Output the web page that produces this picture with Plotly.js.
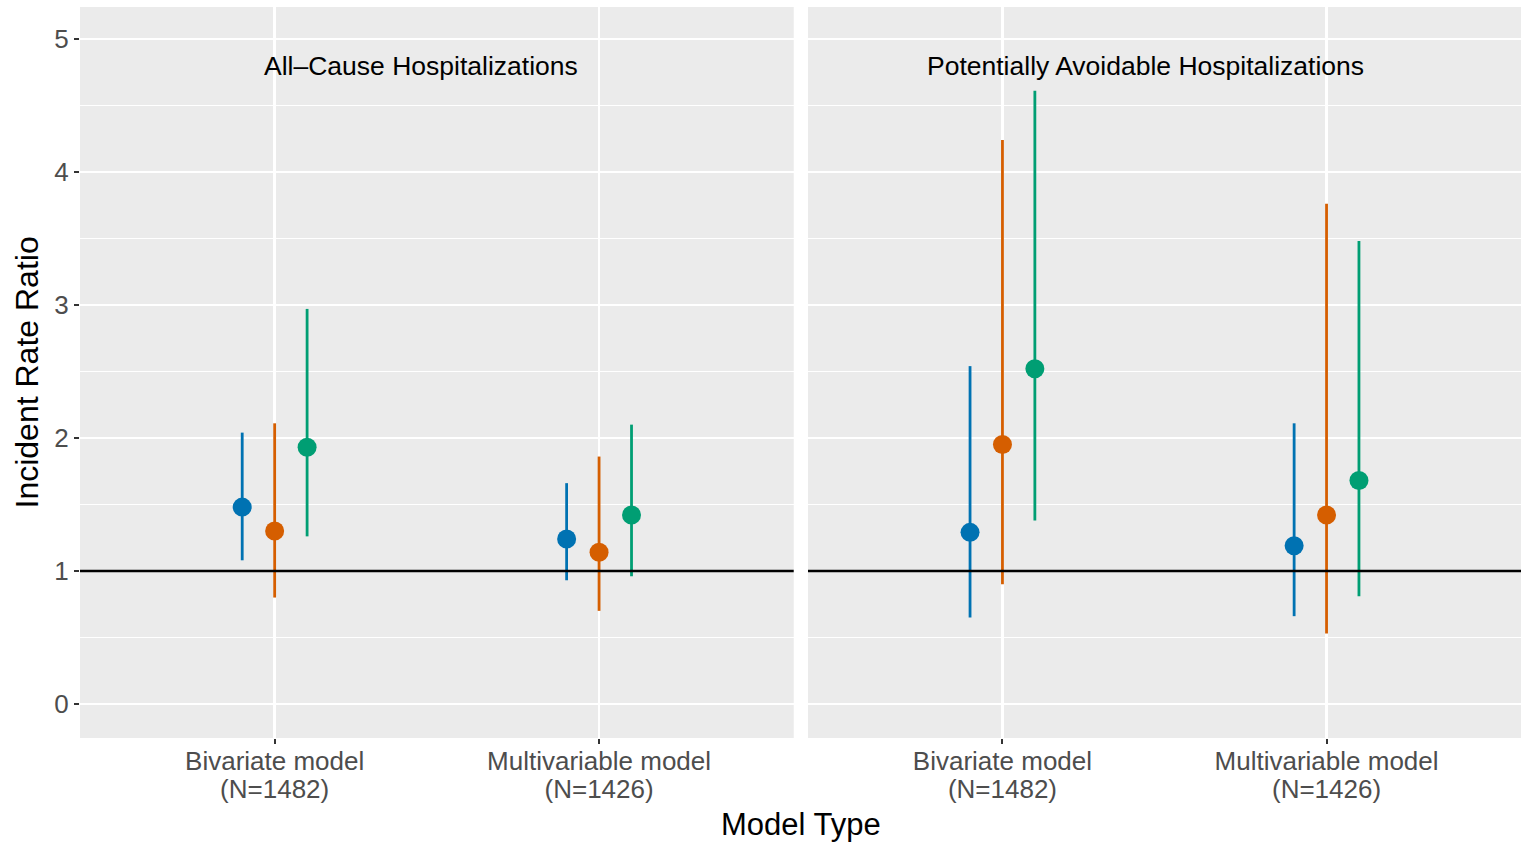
<!DOCTYPE html>
<html><head><meta charset="utf-8">
<script src="https://cdn.plot.ly/plotly-3.0.1.min.js"></script>
<style>body{margin:0;background:#fff}#chart{width:1524px;height:843px}</style>
</head><body><div id="chart"></div>
<script>
const modelNames = ["Bivariate model", "Multivariable model"];
const modelN = ["(N=1482)", "(N=1426)"];
const panels = ["All\u2013Cause Hospitalizations", "Potentially Avoidable Hospitalizations"];
const groupColors = ["#0072B2", "#D55E00", "#009E73"];
// estimates [group][model]
const est_allcause = [[1.48, 1.24], [1.30, 1.14], [1.93, 1.42]];
const lo_allcause  = [[1.08, 0.93], [0.80, 0.70], [1.26, 0.96]];
const hi_allcause  = [[2.04, 1.66], [2.11, 1.86], [2.97, 2.10]];
const est_avoid = [[1.29, 1.19], [1.95, 1.42], [2.52, 1.68]];
const lo_avoid  = [[0.65, 0.66], [0.90, 0.53], [1.38, 0.81]];
const hi_avoid  = [[2.54, 2.11], [4.24, 3.76], [4.61, 3.48]];
const dodge = [-0.1, 0, 0.1];
const refValue = 1;

const data = [];
const sets = [[est_allcause, lo_allcause, hi_allcause, "x", "y"], [est_avoid, lo_avoid, hi_avoid, "x2", "y2"]];
sets.forEach(([est, lo, hi, xa, ya]) => {
  for (let g = 0; g < 3; g++) {
    const xs = [1 + dodge[g], 2 + dodge[g]];
    data.push({
      type: "scatter", mode: "markers", x: xs, y: est[g], xaxis: xa, yaxis: ya,
      marker: {color: groupColors[g], size: 19},
      error_y: {type: "data", symmetric: false,
        array: est[g].map((v, i) => hi[g][i] - v),
        arrayminus: est[g].map((v, i) => v - lo[g][i]),
        color: groupColors[g], thickness: 2.8, width: 0},
      showlegend: false, hoverinfo: "y"
    });
  }
});
// empty traces so the second-line label axes get drawn
data.push({type: "scatter", x: [], y: [], xaxis: "x3", yaxis: "y", showlegend: false});
data.push({type: "scatter", x: [], y: [], xaxis: "x4", yaxis: "y2", showlegend: false});

const font = "Liberation Sans, Arial, sans-serif";
const tickFont = {family: font, size: 26, color: "#4D4D4D"};
const yax = {
  range: [-0.256, 5.24], tickvals: [0, 1, 2, 3, 4, 5], zeroline: false,
  showgrid: true, gridcolor: "#ffffff", gridwidth: 2.6,
  minor: {tickvals: [0.5, 1.5, 2.5, 3.5, 4.5], showgrid: true, gridcolor: "#ffffff", gridwidth: 1.3, ticks: ""},
  ticks: "outside", ticklen: 5, tickcolor: "#333333", tickwidth: 2,
  tickfont: tickFont, showline: false
};
const xax = {
  range: [0.4, 2.6], tickvals: [1, 2], ticktext: modelNames, zeroline: false,
  showgrid: true, gridcolor: "#ffffff", gridwidth: 2.6,
  ticks: "outside", ticklen: 5, tickcolor: "#333333", tickwidth: 2,
  tickfont: tickFont, showline: false, ticklabelstandoff: -5
};
const xaxN = {
  range: [0.4, 2.6], tickvals: [1, 2], ticktext: modelN, zeroline: false,
  showgrid: false, ticks: "", tickfont: tickFont, showline: false, ticklabelstandoff: 33
};
const layout = {
  width: 1524, height: 843,
  margin: {l: 80, r: 3, t: 7, b: 105},
  paper_bgcolor: "#ffffff", plot_bgcolor: "#EBEBEB",
  xaxis: Object.assign({}, xax, {domain: [0, 0.4953], anchor: "y"}),
  xaxis2: Object.assign({}, xax, {domain: [0.5052, 1], anchor: "y2"}),
  xaxis3: Object.assign({}, xaxN, {overlaying: "x", anchor: "y", side: "bottom"}),
  xaxis4: Object.assign({}, xaxN, {overlaying: "x2", anchor: "y2", side: "bottom"}),
  yaxis: Object.assign({}, yax, {anchor: "x"}),
  yaxis2: Object.assign({}, yax, {anchor: "x2", showticklabels: false, ticks: ""}),
  shapes: [
    {type: "line", xref: "x domain", yref: "y", x0: 0, x1: 1, y0: refValue, y1: refValue, line: {color: "#000", width: 2.6}, layer: "above"},
    {type: "line", xref: "x2 domain", yref: "y2", x0: 0, x1: 1, y0: refValue, y1: refValue, line: {color: "#000", width: 2.6}, layer: "above"}
  ],
  annotations: [
    {text: panels[0], xref: "x", yref: "y", x: 1.45, y: 4.8, showarrow: false, font: {family: font, size: 26.5, color: "#000"}},
    {text: panels[1], xref: "x2", yref: "y2", x: 1.44, y: 4.8, showarrow: false, font: {family: font, size: 26.5, color: "#000"}},
    {text: "Model Type", xref: "paper", yref: "paper", x: 0.5, y: -0.119, yanchor: "middle", showarrow: false, font: {family: font, size: 31, color: "#000"}},
    {text: "Incident Rate Ratio", xref: "paper", yref: "paper", x: -0.0368, y: 0.5, xanchor: "center", yanchor: "middle", textangle: -90, showarrow: false, font: {family: font, size: 32, color: "#000"}}
  ]
};
Plotly.newPlot("chart", data, layout, {displayModeBar: false, staticPlot: true});
</script></body></html>
